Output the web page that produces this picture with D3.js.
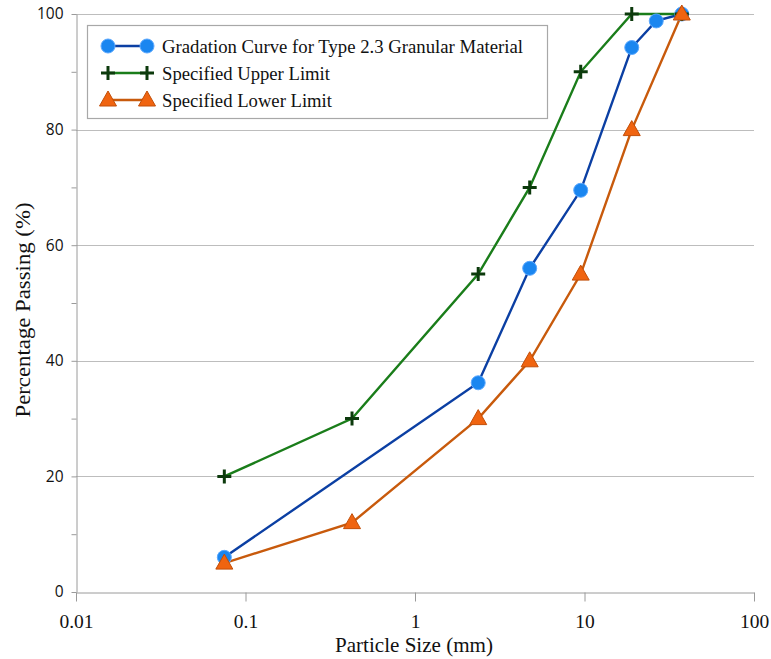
<!DOCTYPE html>
<html>
<head>
<meta charset="utf-8">
<script src="https://cdn.jsdelivr.net/npm/d3@7"></script>
<style>
html,body{margin:0;padding:0;background:#fff;}
svg{display:block;}
</style>
</head>
<body>
<svg id="chart" width="771" height="659"></svg>
<script>
// ---- data ----
const seriesNames = ["Gradation Curve for Type 2.3 Granular Material", "Specified Upper Limit", "Specified Lower Limit"];
const gradationSize = [0.075, 2.36, 4.75, 9.5, 19, 26.5, 37.5];
const gradationPass = [6, 36.2, 56, 69.5, 94.2, 98.8, 100];
const upperSize = [0.075, 0.425, 2.36, 4.75, 9.5, 19, 37.5];
const upperPass = [20, 30, 55, 70, 90, 100, 100];
const lowerSize = [0.075, 0.425, 2.36, 4.75, 9.5, 19, 37.5];
const lowerPass = [5, 12, 30, 40, 55, 80, 100];
const xTicks = [0.01, 0.1, 1, 10, 100];
const xTickLabels = ["0.01", "0.1", "1", "10", "100"];
const yTicks = [0, 20, 40, 60, 80, 100];
const yMinorTicks = [0, 10, 20, 30, 40, 50, 60, 70, 80, 90, 100];
const xTitle = "Particle Size (mm)";
const yTitle = "Percentage Passing (%)";

// ---- layout ----
const svg = d3.select("#chart");
const L = 76, R = 754, T = 14, B = 592;
const x = d3.scaleLog().domain([0.01, 100]).range([L, R]);
const y = d3.scaleLinear().domain([0, 100]).range([B, T]);
const serif = "Liberation Serif, Times New Roman, serif";

// gridlines
svg.append("g").selectAll("line").data(yTicks.filter(d => d > 0)).join("line")
  .attr("x1", L).attr("x2", R)
  .attr("y1", d => Math.round(y(d)) + 0.5).attr("y2", d => Math.round(y(d)) + 0.5)
  .attr("stroke", "#bdbdbd").attr("stroke-width", 1);

// x axis
const xAxis = d3.axisBottom(x).tickValues(xTicks).tickFormat((d, i) => xTickLabels[i]).tickSize(9).tickSizeOuter(0);
const gx = svg.append("g").attr("transform", `translate(0,${B + 0.5})`).call(xAxis);
gx.select(".domain").attr("stroke", "#9a9a9a");
gx.selectAll(".tick line").attr("stroke", "#9a9a9a");
gx.selectAll(".tick text").attr("font-family", serif)
  .attr("font-size", 19.5).attr("fill", "#111").attr("dy", null).attr("y", 35.5);

// y axis
const yAxis = d3.axisLeft(y).tickValues(yMinorTicks).tickFormat(d => yTicks.includes(d) ? d : "").tickSize(5).tickSizeOuter(0);
const gy = svg.append("g").attr("transform", `translate(${L + 0.5},0)`).call(yAxis);
gy.select(".domain").attr("stroke", "#9a9a9a");
gy.selectAll(".tick line").attr("stroke", "#9a9a9a");
gy.selectAll(".tick text").attr("font-family", "Open Sans, Liberation Sans, sans-serif")
  .attr("font-size", 15.5).attr("fill", "#111").attr("x", -13);

// titles
svg.append("text").attr("x", 414).attr("y", 652).attr("text-anchor", "middle")
  .attr("font-family", serif).attr("font-size", 21).attr("fill", "#111")
  .attr("textLength", 158).attr("lengthAdjust", "spacingAndGlyphs").text(xTitle);
svg.append("text").attr("transform", `translate(30,310) rotate(-90)`).attr("text-anchor", "middle")
  .attr("font-family", serif).attr("font-size", 21).attr("fill", "#111")
  .attr("textLength", 215).attr("lengthAdjust", "spacingAndGlyphs").text(yTitle);

// marker drawers
const styles = [
  {line: "#0b3fa3", draw: (g) => g.append("circle").attr("r", 7).attr("fill", "#1a86f0").attr("stroke", "#5aa8ff").attr("stroke-width", 1)},
  {line: "#1a7d1a", draw: (g) => g.append("path").attr("d", "M-7,0H7M0,-7V7").attr("stroke", "#0c3a0c").attr("stroke-width", 3).attr("fill", "none")},
  {line: "#c85a0c", draw: (g) => g.append("path").attr("d", "M0,-9L8.5,6H-8.5Z").attr("fill", "#f06410").attr("stroke", "#c24e08").attr("stroke-width", 1)}
];

const data = [
  gradationSize.map((s, i) => [s, gradationPass[i]]),
  upperSize.map((s, i) => [s, upperPass[i]]),
  lowerSize.map((s, i) => [s, lowerPass[i]])
];

const line = d3.line().x(d => x(d[0])).y(d => y(d[1]));
data.forEach((pts, k) => {
  svg.append("path").datum(pts).attr("d", line).attr("fill", "none")
    .attr("stroke", styles[k].line).attr("stroke-width", 2.4);
});
data.forEach((pts, k) => {
  pts.forEach(p => {
    const g = svg.append("g").attr("transform", `translate(${x(p[0])},${y(p[1])})`);
    styles[k].draw(g);
  });
});

// legend
const lg = svg.append("g");
lg.append("rect").attr("x", 87.5).attr("y", 25.5).attr("width", 460).attr("height", 93)
  .attr("fill", "#fff").attr("stroke", "#a8a8a8").attr("stroke-width", 1.2);
const rowsY = [46, 73, 100];
const textLens = [361, 168, 170];
seriesNames.forEach((name, k) => {
  lg.append("line").attr("x1", 107).attr("x2", 148).attr("y1", rowsY[k]).attr("y2", rowsY[k])
    .attr("stroke", styles[k].line).attr("stroke-width", 2.4);
  [108, 147].forEach(px => {
    const g = lg.append("g").attr("transform", `translate(${px},${rowsY[k]})`);
    styles[k].draw(g);
  });
  lg.append("text").attr("x", 162).attr("y", rowsY[k] + 6.5)
    .attr("font-family", serif).attr("font-size", 19.5)
    .attr("textLength", textLens[k]).attr("lengthAdjust", "spacingAndGlyphs")
    .attr("fill", "#111").text(name);
});
</script>
</body>
</html>
